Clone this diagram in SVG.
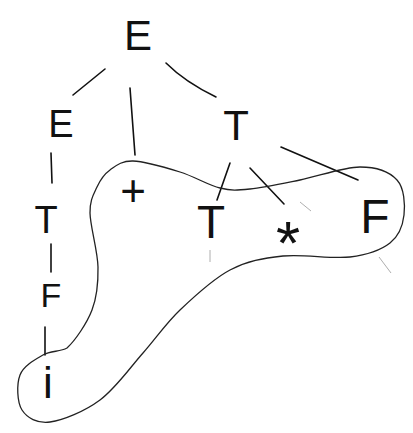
<svg xmlns="http://www.w3.org/2000/svg" width="413" height="433" viewBox="0 0 413 433">
<style>
.lbl{font-family:"Liberation Sans",Arial,sans-serif;fill:#111;text-anchor:middle}
.edge{stroke:#111;stroke-width:1.6;fill:none;stroke-linecap:round}
.faint{stroke:#999;stroke-width:0.8;fill:none}
</style>
<rect width="413" height="433" fill="#fff"/>
<g id="connectors">
<line class="edge" x1="105" y1="69" x2="73" y2="95"/>
<line class="edge" x1="130" y1="88" x2="135" y2="155"/>
<path class="edge" d="M166,63 Q185,82 216,97"/>
<line class="edge" x1="51" y1="153" x2="52" y2="183"/>
<line class="edge" x1="51" y1="244" x2="51" y2="272"/>
<line class="edge" x1="45" y1="327" x2="45" y2="355"/>
<line class="edge" x1="230" y1="163" x2="217" y2="200"/>
<line class="edge" x1="250" y1="168" x2="284" y2="204"/>
<line class="edge" x1="281" y1="147" x2="358" y2="180"/>
<line class="faint" x1="300" y1="202" x2="311" y2="211"/>
<line class="faint" x1="379" y1="257" x2="391" y2="273"/>
<line class="faint" x1="210" y1="250" x2="210" y2="262"/>
</g>
<g id="loop">
<path d="M133,161 C144.7,161.3 165.5,167.5 180,172 C194.5,176.5 208.3,185.2 220,188 C231.7,190.8 236.7,190.3 250,189 C263.3,187.7 281.7,183.7 300,180 C318.3,176.3 343.8,167 360,167 C376.2,167 389.7,172 397,180 C404.3,188 405.2,204.5 404,215 C402.8,225.5 399,236 390,243 C381,250 367.8,254.8 350,257 C332.2,259.2 303,253.8 283,256 C263,258.2 247.2,261 230,270 C212.8,279 194.5,296.2 180,310 C165.5,323.8 156.3,338 143,353 C129.7,368 115.5,388.5 100,400 C84.5,411.5 63,420.3 50,422 C37,423.7 27,417.8 22,410 C17,402.2 16.5,384.2 20,375 C23.5,365.8 35.2,359.5 43,355 C50.8,350.5 60,352 67,348 C75.2,340.5 86.8,323.5 92,310 C97.2,296.5 98.3,283.2 98,267 C97.7,250.8 90.2,226.3 90,213 C89.8,199.7 93.7,194.2 97,187 C100.3,179.8 104,174.3 110,170 C116,165.7 121.3,160.7 133,161 Z" fill="none" stroke="#222" stroke-width="1.3"/>
</g>
<g id="n_E_root"><text class="lbl" x="138" y="50" font-size="42">E</text></g>
<g id="n_E_left"><text class="lbl" x="61" y="137" font-size="38">E</text></g>
<g id="n_T_right"><text class="lbl" x="236" y="140" font-size="42">T</text></g>
<g id="n_T_left"><text class="lbl" x="46" y="233" font-size="38">T</text></g>
<g id="n_F_left"><text class="lbl" x="51" y="307" font-size="34">F</text></g>
<g id="n_i"><text class="lbl" x="48" y="398" font-size="44">i</text></g>
<g id="n_plus"><text class="lbl" x="133" y="206" font-size="44">+</text></g>
<g id="n_T_mid"><text class="lbl" x="211" y="238" font-size="46">T</text></g>
<g id="n_star"><text class="lbl" x="288" y="264" font-size="62">*</text></g>
<g id="n_F_right"><text class="lbl" x="375" y="233" font-size="48">F</text></g>
</svg>
